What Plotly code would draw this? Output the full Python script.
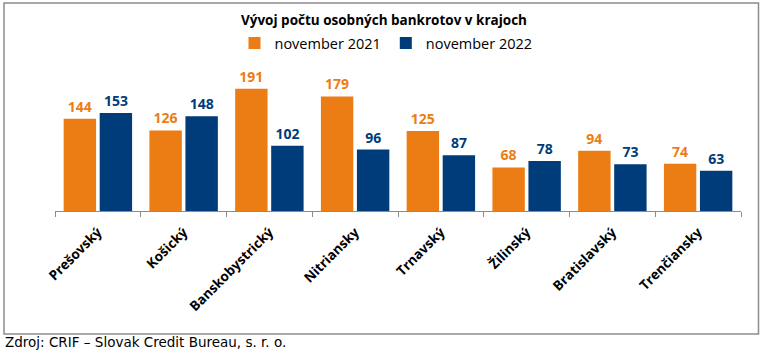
import plotly.graph_objects as go

categories = ["Prešovský", "Košický", "Banskobystrický", "Nitriansky", "Trnavský",
              "Žilinský", "Bratislavský", "Trenčiansky"]
nov_2021 = [144, 126, 191, 179, 125, 68, 94, 74]
nov_2022 = [153, 148, 102, 96, 87, 78, 73, 63]
series_names = ["november 2021", "november 2022"]
title_text = "Vývoj počtu osobných bankrotov v krajoch"
source_text = "Zdroj: CRIF – Slovak Credit Bureau, s. r. o."

ORANGE = "#EC7D14"
BLUE = "#003B7A"
FONT = "Open Sans"

W, H = 762, 350
L, R, T, B = 55, 21, 60, 139
pw, ph = W - L - R, H - T - B

def px_x(x):
    return (x - L) / pw

def px_y(y):
    return (H - B - y) / ph

fig = go.Figure()
for name, vals, col in [(series_names[0], nov_2021, ORANGE), (series_names[1], nov_2022, BLUE)]:
    fig.add_trace(go.Bar(
        x=categories, y=vals, name=name, marker_color=col, marker_line_width=0,
        text=vals, textposition="outside", cliponaxis=False,
        textfont=dict(family=FONT, size=14, color=col, weight="bold"),
    ))

fig.update_layout(
    width=W, height=H,
    margin=dict(l=L, r=R, t=T, b=B),
    paper_bgcolor="white", plot_bgcolor="white",
    barmode="group", bargap=0.16, bargroupgap=0.1,
    title=dict(text="<b>" + title_text + "</b>", x=384 / W, xref="container", xanchor="center",
               y=1 - 20 / H, yref="container", yanchor="middle",
               font=dict(family=FONT, size=13.5, color="#000000")),
    legend=dict(orientation="h", x=px_x(386), xanchor="center", y=px_y(43), yanchor="middle",
                font=dict(family=FONT, size=14.5, color="#000000"),
                itemwidth=30, traceorder="normal", bgcolor="rgba(0,0,0,0)"),
    showlegend=True,
)
fig.update_xaxes(
    showline=True, linecolor="#8C8C8C", linewidth=1,
    ticks="outside", tickson="boundaries", ticklen=5, tickcolor="#8C8C8C",
    tickangle=-45, ticklabelstandoff=7,
    tickfont=dict(family=FONT, size=13.5, color="#000000", weight="bold"),
    showgrid=False,
)
fig.update_yaxes(range=[0, 236], visible=False, showgrid=False)

fig.add_shape(type="rect", xref="paper", yref="paper",
              x0=px_x(4), x1=px_x(758.5), y0=px_y(334), y1=px_y(3),
              line=dict(color="#8C8C8C", width=1.5), fillcolor="rgba(0,0,0,0)", layer="below")

fig.add_annotation(text=source_text, xref="paper", yref="paper",
                   x=px_x(3), xanchor="left", y=px_y(342), yanchor="middle",
                   showarrow=False,
                   font=dict(family="DejaVu Sans", size=13.5, color="#000000"))

fig.write_html("out.html")
